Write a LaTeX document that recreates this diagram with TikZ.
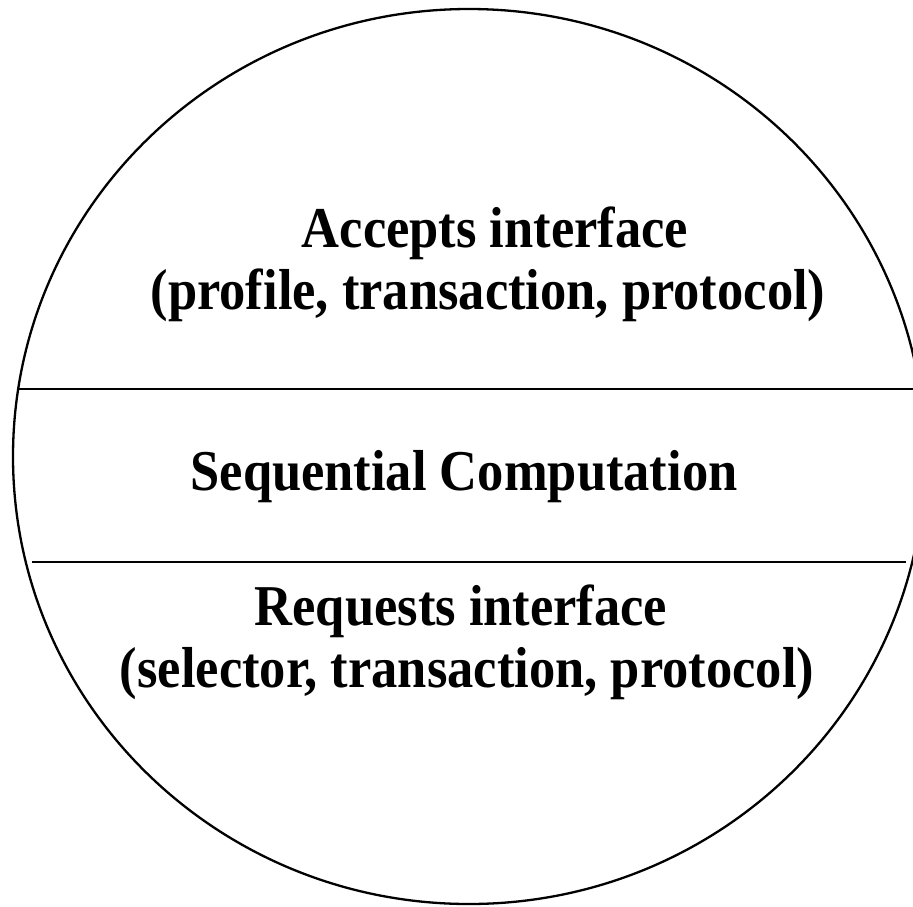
\documentclass[tikz,border=0pt]{standalone}
\usepackage{fontspec}
\usepackage{graphicx}
\setmainfont{Liberation Serif}
% slightly tall, narrow lettering
\newcommand{\talltext}[1]{\scalebox{1}[1.1]{#1}}
\begin{document}
\begin{tikzpicture}[x=1pt,y=-1pt,
  outline/.style={line width=2.3pt,black},
  label/.style={anchor=base,inner sep=0pt,font=\fontsize{52.5}{61}\selectfont\bfseries}]
\useasboundingbox (0,0) rectangle (913,906);
% object outline
\draw[outline] (469,456.5) ellipse [x radius=456, y radius=447.5];
% compartment dividers
\coordinate (d1l) at (18,389);
\coordinate (d1r) at (913,389);
\coordinate (d2l) at (32,562);
\coordinate (d2r) at (906,562);
\draw[outline] (d1l) -- (d1r);
\draw[outline] (d2l) -- (d2r);
% compartment texts
\node[label] (acc1) at (495,247) {\talltext{Accepts interface}};
\node[label] (acc2) at (488,309) {\talltext{(profile, transaction, protocol)}};
\node[label] (seq)  at (464,490) {\talltext{Sequential Computation}};
\node[label] (req1) at (461,625) {\talltext{Requests interface}};
\node[label] (req2) at (467,687) {\talltext{(selector, transaction, protocol)}};
\end{tikzpicture}
\end{document}
